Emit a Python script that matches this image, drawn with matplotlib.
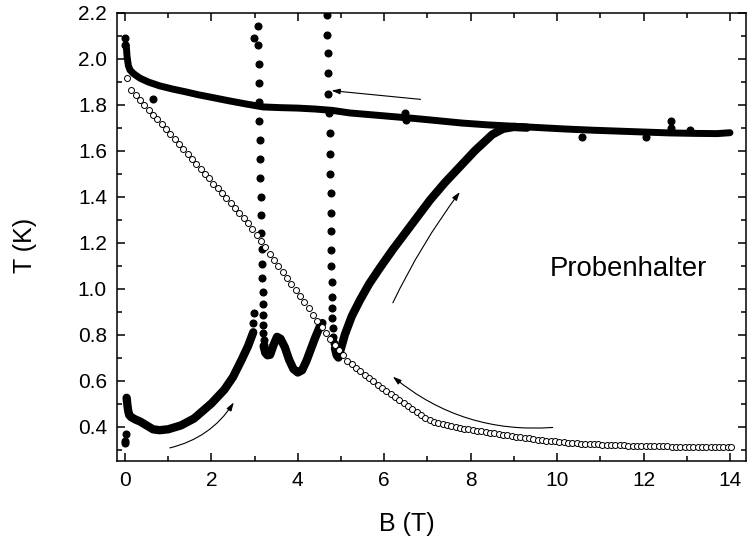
import matplotlib
matplotlib.use("Agg")
import matplotlib.pyplot as plt
from matplotlib.patches import FancyArrowPatch
from matplotlib.ticker import MultipleLocator

plt.rcParams['font.family'] = ['Liberation Sans', 'DejaVu Sans']

# upper branch (field sweep down), dense data -> thick band
top_B = [0.03, 0.05, 0.08, 0.12, 0.2, 0.35, 0.55, 0.8, 1.1, 1.4, 1.7, 2.0, 2.4, 2.8, 3.2,
         3.6, 4.0, 4.4, 4.8, 5.2, 5.7, 6.2, 6.7, 7.2, 7.8, 8.4, 9.0, 9.6, 10.2, 10.8,
         11.4, 12.0, 12.6, 13.2, 13.7, 14.0]
top_T = [2.06, 2.01, 1.97, 1.95, 1.935, 1.915, 1.898, 1.882, 1.868, 1.856, 1.843, 1.832,
         1.817, 1.803, 1.79, 1.787, 1.785, 1.781, 1.775, 1.764, 1.756, 1.748, 1.740, 1.731,
         1.72, 1.712, 1.706, 1.70, 1.694, 1.689, 1.685, 1.681, 1.677, 1.675, 1.674, 1.678]

# lower branch (field sweep up), three pieces
low1_B = [0.04, 0.06, 0.08, 0.1, 0.15, 0.25, 0.35, 0.5, 0.65, 0.8, 1.0, 1.3, 1.6, 2.0,
          2.3, 2.5, 2.7, 2.85, 2.97]
low1_T = [0.525, 0.49, 0.465, 0.45, 0.44, 0.43, 0.422, 0.405, 0.388, 0.384, 0.388, 0.405,
          0.435, 0.50, 0.56, 0.615, 0.69, 0.75, 0.81]
low2_B = [3.21, 3.25, 3.3, 3.36, 3.44, 3.52, 3.6, 3.7, 3.8, 3.9, 4.0, 4.1, 4.2, 4.3, 4.4,
          4.5, 4.57]
low2_T = [0.75, 0.72, 0.71, 0.712, 0.755, 0.79, 0.782, 0.745, 0.69, 0.65, 0.635, 0.645,
          0.685, 0.735, 0.785, 0.83, 0.85]
low3_B = [4.86, 4.9, 4.94, 5.0, 5.09, 5.25, 5.44, 5.65, 5.9, 6.2, 6.5, 6.8, 7.06, 7.4,
          7.75, 8.1, 8.5, 8.75, 9.0, 9.3]
low3_T = [0.74, 0.71, 0.70, 0.74, 0.80, 0.88, 0.95, 1.02, 1.09, 1.17, 1.245, 1.32, 1.385,
          1.46, 1.53, 1.60, 1.67, 1.695, 1.703, 1.70]

# single visible points (jumps near 3.1 T and 4.8 T, outliers)
col1_B = [2.99, 3.09, 3.09, 3.10, 3.10, 3.11, 3.11, 3.12, 3.12, 3.13, 3.14, 3.15, 3.16,
          3.17, 3.18, 3.18, 3.19, 3.19, 3.20, 3.20, 3.20, 3.21, 3.21]
col1_T = [2.092, 2.144, 2.060, 1.976, 1.893, 1.812, 1.727, 1.646, 1.563, 1.479, 1.40,
          1.32, 1.241, 1.171, 1.107, 1.045, 0.987, 0.933, 0.886, 0.842, 0.806, 0.777, 0.755]
col2_B = [4.68, 4.68, 4.69, 4.70, 4.71, 4.72, 4.74, 4.745, 4.75, 4.76, 4.77, 4.77, 4.78,
          4.78, 4.79, 4.79, 4.80, 4.80, 4.82, 4.82, 4.83]
col2_T = [2.19, 2.103, 2.023, 1.937, 1.847, 1.762, 1.676, 1.586, 1.50, 1.415, 1.328,
          1.251, 1.168, 1.099, 1.030, 0.965, 0.915, 0.871, 0.828, 0.791, 0.763]
extra_B = [0.0, 0.01, 0.64, 0.0, 0.0, 0.02, 2.98, 2.97, 6.48, 6.5, 10.57, 12.06, 12.63,
           12.63, 13.08]
extra_T = [2.089, 2.06, 1.823, 0.328, 0.339, 0.367, 0.893, 0.85, 1.765, 1.735, 1.661,
           1.66, 1.73, 1.70, 1.688]

# sample holder curve (open circles)
open_B = [0.06, 0.15, 0.25, 0.35, 0.45, 0.55, 0.65, 0.75, 0.85, 0.95, 1.05, 1.15, 1.25,
          1.35, 1.45, 1.55, 1.65, 1.75, 1.85, 1.95, 2.05, 2.15, 2.25, 2.35, 2.45, 2.55,
          2.65, 2.75, 2.85, 2.95, 3.05, 3.15, 3.25, 3.35, 3.45, 3.55, 3.65, 3.75, 3.85,
          3.95, 4.05, 4.15, 4.25, 4.35, 4.45, 4.55, 4.65, 4.75, 4.85, 4.95, 5.05, 5.15,
          5.25, 5.35, 5.45, 5.55, 5.65, 5.75, 5.85, 5.95, 6.05, 6.15, 6.25, 6.35, 6.45,
          6.55, 6.65, 6.75, 6.85, 6.95, 7.05, 7.15, 7.25, 7.35, 7.45, 7.55, 7.65, 7.75,
          7.85, 7.95, 8.05, 8.15, 8.25, 8.35, 8.45, 8.55, 8.65, 8.75, 8.85, 8.95, 9.05,
          9.15, 9.25, 9.35, 9.45, 9.55, 9.65, 9.75, 9.85, 9.95, 10.05, 10.15, 10.25,
          10.35, 10.45, 10.55, 10.65, 10.75, 10.85, 10.95, 11.05, 11.15, 11.25, 11.35,
          11.45, 11.55, 11.65, 11.75, 11.85, 11.95, 12.05, 12.15, 12.25, 12.35, 12.45,
          12.55, 12.65, 12.75, 12.85, 12.95, 13.05, 13.15, 13.25, 13.35, 13.45, 13.55,
          13.65, 13.75, 13.85, 13.95, 14.02]
open_T = [1.915, 1.864, 1.843, 1.821, 1.800, 1.778, 1.757, 1.736, 1.714, 1.693, 1.671,
          1.650, 1.629, 1.607, 1.586, 1.564, 1.543, 1.522, 1.500, 1.479, 1.457, 1.436,
          1.415, 1.393, 1.372, 1.350, 1.329, 1.308, 1.286, 1.258, 1.232, 1.205, 1.179,
          1.152, 1.126, 1.099, 1.073, 1.046, 1.020, 0.993, 0.967, 0.940, 0.914, 0.887,
          0.861, 0.834, 0.808, 0.781, 0.756, 0.732, 0.709, 0.687, 0.670, 0.655, 0.640,
          0.625, 0.610, 0.596, 0.582, 0.568, 0.555, 0.542, 0.529, 0.516, 0.503, 0.490,
          0.477, 0.464, 0.451, 0.438, 0.428, 0.421, 0.416, 0.411, 0.407, 0.403, 0.399,
          0.395, 0.391, 0.388, 0.385, 0.382, 0.379, 0.376, 0.373, 0.370, 0.367, 0.364,
          0.361, 0.358, 0.355, 0.353, 0.350, 0.348, 0.345, 0.343, 0.341, 0.339, 0.337,
          0.335, 0.333, 0.332, 0.330, 0.329, 0.327, 0.326, 0.325, 0.324, 0.323, 0.322,
          0.321, 0.320, 0.319, 0.319, 0.318, 0.318, 0.317, 0.317, 0.316, 0.316, 0.315,
          0.315, 0.315, 0.314, 0.314, 0.314, 0.313, 0.313, 0.313, 0.312, 0.312, 0.312,
          0.312, 0.311, 0.311, 0.311, 0.311, 0.311, 0.311, 0.311, 0.312]

fig = plt.figure(figsize=(7.47, 5.47), dpi=100)
ax = fig.add_axes([0.1562, 0.1572, 0.8424, 0.8196])

band = dict(color='black', solid_capstyle='round', solid_joinstyle='round')
ax.plot(top_B, top_T, lw=5, **band)
ax.plot(low1_B, low1_T, lw=6, **band)
ax.plot(low2_B, low2_T, lw=6, **band)
ax.plot(low3_B, low3_T, lw=6, **band)

dots = dict(ls='none', marker='o', ms=4.8, color='black')
ax.plot(col1_B, col1_T, **dots)
ax.plot(col2_B, col2_T, **dots)
ax.plot(extra_B, extra_T, **dots)

ax.plot(open_B, open_T, ls='none', marker='o', ms=4.3, mfc='white', mec='black', mew=0.7)

# sweep direction arrows
arrows = [((1.04, 0.307), (2.52, 0.505), 0.2),
          ((9.9, 0.396), (6.2, 0.617), -0.2),
          ((6.2, 0.938), (7.75, 1.42), -0.05),
          ((6.84, 1.823), (4.78, 1.861), 0.0)]
for start, end, rad in arrows:
    ax.add_patch(FancyArrowPatch(start, end, connectionstyle=f"arc3,rad={rad}",
                                 arrowstyle='-|>,head_length=5,head_width=1.6',
                                 lw=0.8, color='black', shrinkA=0, shrinkB=0))

ax.text(9.82, 1.055, 'Probenhalter', fontsize=19.8, ha='left', va='baseline')

ax.set_xlim(-0.19, 14.37)
ax.set_ylim(0.25, 2.2)
ax.xaxis.set_major_locator(MultipleLocator(2))
ax.xaxis.set_minor_locator(MultipleLocator(1))
ax.yaxis.set_major_locator(MultipleLocator(0.2))
ax.yaxis.set_minor_locator(MultipleLocator(0.1))
ax.yaxis.set_major_formatter(lambda v, p: f"{v:.1f}")
ax.tick_params(which='both', direction='in', top=True, right=True, width=1.1, labelsize=15)
ax.tick_params(which='major', length=6, pad=7)
ax.tick_params(which='minor', length=3.5)
for s in ax.spines.values():
    s.set_linewidth(1.1)

ax.set_xlabel('B (T)', fontsize=18)
ax.set_ylabel('T (K)', fontsize=18)
ax.xaxis.set_label_coords(0.461, -0.114)
ax.yaxis.set_label_coords(-0.126, 0.48)

fig.savefig('out.png', dpi=100)
